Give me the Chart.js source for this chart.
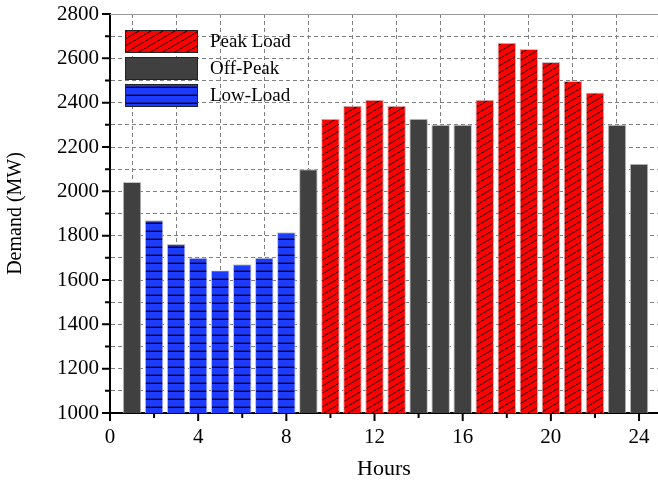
<!DOCTYPE html>
<html lang="en">
<head>
    <meta charset="UTF-8">
    <title>Hourly Demand</title>
    <script src="https://cdn.jsdelivr.net/npm/chart.js"></script>
    <style>
        html, body { margin: 0; padding: 0; background: #fff; }
        #wrap { width: 658px; height: 482px; }
    </style>
</head>
<body>
    <div id="wrap"><canvas id="chartDemand" width="658" height="482"></canvas></div>

    <script>
        // hourly demand (MW)
        const hours = [1, 2, 3, 4, 5, 6, 7, 8, 9, 10, 11, 12, 13, 14, 15, 16, 17, 18, 19, 20, 21, 22, 23, 24];
        const demand = [2042, 1870, 1762, 1700, 1643, 1671, 1700, 1815, 2100, 2327, 2386, 2413, 2386, 2327,
                        2300, 2300, 2413, 2670, 2642, 2584, 2498, 2446, 2300, 2124];
        // P = peak load, O = off-peak, L = low-load
        const period = ['O', 'L', 'L', 'L', 'L', 'L', 'L', 'L', 'O', 'P', 'P', 'P', 'P', 'O',
                        'O', 'O', 'P', 'P', 'P', 'P', 'P', 'P', 'O', 'O'];
        const seriesNames = { P: 'Peak Load', O: 'Off-Peak', L: 'Low-Load' };
        const yTicks = [1000, 1200, 1400, 1600, 1800, 2000, 2200, 2400, 2600, 2800];
        const xTicks = [0, 4, 8, 12, 16, 20, 24];

        const serif = 'Liberation Serif, Times New Roman, serif';

        // fill patterns
        function makePattern(w, h, bg, drawLines) {
            const c = document.createElement('canvas');
            c.width = w; c.height = h;
            const g = c.getContext('2d');
            g.fillStyle = bg;
            g.fillRect(0, 0, w, h);
            g.strokeStyle = '#000';
            drawLines(g, w, h);
            return g.createPattern(c, 'repeat');
        }
        const redHatch = makePattern(12, 7, '#ff0000', (g, w, h) => {
            g.lineWidth = 0.9;
            g.beginPath();
            for (let k = -1; k <= 1; k++) {
                g.moveTo(k * w, h); g.lineTo(k * w + w, 0);
            }
            g.stroke();
        });
        const blueLines = makePattern(8, 8, '#1c3bff', (g, w, h) => {
            g.lineWidth = 1.4;
            g.beginPath();
            g.moveTo(0, h - 0.7); g.lineTo(w, h - 0.7);
            g.stroke();
        });
        const fills = { P: redHatch, O: '#404040', L: blueLines };

        function pointsFor(key) {
            return hours.map((h, i) => ({ x: h, y: demand[i] })).filter((p, i) => period[i] === key);
        }

        const datasets = ['P', 'O', 'L'].map(key => ({
            label: seriesNames[key],
            data: pointsFor(key),
            backgroundColor: fills[key],
            borderColor: '#c4c4c4',
            borderWidth: 1,
            grouped: false,
            barPercentage: 1.0,
            categoryPercentage: 0.84
        }));

        // legend drawn inside the plot, top left
        const boxLegend = {
            id: 'boxLegend',
            afterDatasetsDraw(chart) {
                const { ctx, chartArea } = chart;
                const x0 = chartArea.left + 15, y0 = chartArea.top + 16;
                ctx.save();
                ctx.font = '19px ' + serif;
                ctx.textBaseline = 'middle';
                chart.data.datasets.forEach((ds, i) => {
                    const y = y0 + i * 27;
                    ctx.fillStyle = ds.backgroundColor;
                    ctx.fillRect(x0, y, 73, 23);
                    ctx.strokeStyle = '#222';
                    ctx.lineWidth = 1;
                    ctx.strokeRect(x0 + 0.5, y + 0.5, 72, 22);
                    ctx.fillStyle = '#000';
                    ctx.fillText(ds.label, x0 + 85, y + 12);
                });
                ctx.restore();
            }
        };

        // major / minor tick marks and the grey top frame line
        const tickMarks = {
            id: 'tickMarks',
            afterDraw(chart) {
                const { ctx, chartArea, scales } = chart;
                ctx.save();
                ctx.strokeStyle = '#9a9a9a';
                ctx.lineWidth = 1;
                ctx.beginPath();
                ctx.moveTo(chartArea.left, chartArea.top + 0.5);
                ctx.lineTo(chartArea.right, chartArea.top + 0.5);
                ctx.stroke();

                ctx.strokeStyle = '#000';
                ctx.lineWidth = 2;
                ctx.beginPath();
                for (let v = 1000; v <= 2800; v += 100) {
                    const y = scales.y.getPixelForValue(v);
                    const len = yTicks.includes(v) ? 8 : 5;
                    ctx.moveTo(chartArea.left - len, y);
                    ctx.lineTo(chartArea.left, y);
                }
                for (let h = 0; h <= 24; h += 2) {
                    const x = scales.x.getPixelForValue(h);
                    const len = xTicks.includes(h) ? 8 : 5;
                    ctx.moveTo(x, chartArea.bottom);
                    ctx.lineTo(x, chartArea.bottom + len);
                }
                ctx.stroke();
                ctx.restore();
            }
        };

        new Chart(document.getElementById('chartDemand'), {
            type: 'bar',
            data: { datasets: datasets },
            plugins: [boxLegend, tickMarks],
            options: {
                responsive: false,
                animation: false,
                layout: { padding: { top: 14, right: 0, left: 0, bottom: 0 } },
                plugins: {
                    legend: { display: false },
                    tooltip: { enabled: false }
                },
                scales: {
                    x: {
                        type: 'linear',
                        offset: false,
                        min: 0,
                        max: 24.86,
                        afterBuildTicks: scale => {
                            scale.ticks = [];
                            for (let h = 0; h <= 24; h += 2) scale.ticks.push({ value: h });
                        },
                        afterFit: scale => {
                            scale.height = 69;
                            scale.paddingLeft = 0;
                            scale.paddingRight = 0;
                        },
                        ticks: {
                            padding: 12,
                            maxRotation: 0,
                            autoSkip: false,
                            color: '#000',
                            font: { family: serif, size: 21 },
                            callback: v => (xTicks.includes(v) ? String(v) : '')
                        },
                        grid: { color: '#808080', lineWidth: 1, drawTicks: false },
                        border: { display: true, color: '#000', width: 2, dash: [4, 3] },
                        title: {
                            display: true,
                            text: 'Hours',
                            color: '#000',
                            font: { family: serif, size: 22 },
                            padding: { top: 0, bottom: 0 }
                        }
                    },
                    y: {
                        min: 1000,
                        max: 2800,
                        afterFit: scale => {
                            scale.width = 110;
                            scale.paddingTop = 0;
                            scale.paddingBottom = 0;
                        },
                        ticks: {
                            stepSize: 100,
                            padding: 11,
                            autoSkip: false,
                            color: '#000',
                            font: { family: serif, size: 21 },
                            callback: v => (yTicks.includes(v) ? String(v) : '')
                        },
                        grid: { color: '#808080', lineWidth: 1, drawTicks: false },
                        border: { display: true, color: '#000', width: 2, dash: [4, 3] },
                        title: {
                            display: true,
                            text: 'Demand (MW)',
                            color: '#000',
                            font: { family: serif, size: 20 },
                            padding: { top: 4, bottom: 0 }
                        }
                    }
                }
            }
        });
    </script>
</body>
</html>
